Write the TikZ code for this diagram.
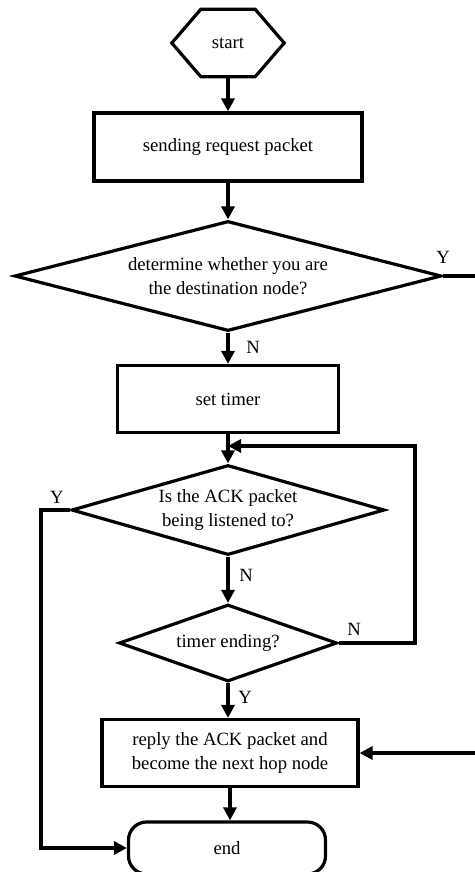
\documentclass[tikz,border=0pt]{standalone}
\usepackage{fontspec}
\setmainfont{Liberation Serif}
\usetikzlibrary{shapes.geometric,arrows.meta}

\begin{document}
\begin{tikzpicture}[x=1bp,y=-1bp,
    every node/.style={font=\fontsize{18.7bp}{24bp}\selectfont},
    proc/.style={draw,rectangle,line width=3.2bp,inner sep=0pt,align=center},
    decision/.style={draw,diamond,line width=3.2bp,inner sep=0pt,align=center},
    terminal/.style={draw,rectangle,rounded corners=18bp,line width=3.2bp,inner sep=0pt},
    flow/.style={line width=3.2bp,-{Triangle[length=13bp,width=13bp]}},
    wire/.style={line width=3.2bp}]
    \clip (0,0) rectangle (475,872);

    \node[minimum width=112bp,minimum height=67bp,inner sep=0pt] (start) at (228,43) {start};
    \draw[wire] ([xshift=29bp]start.north west) -- ([xshift=-29bp]start.north east)
        -- (start.east) -- ([xshift=-29bp]start.south east)
        -- ([xshift=29bp]start.south west) -- (start.west) -- cycle;

    \node[proc,minimum width=268bp,minimum height=68bp] (send) at (228,147) {sending request packet};
    \node[decision,aspect=3.88,minimum width=427bp,minimum height=110bp] (dest) at (228,276)
        {determine whether you are\\the destination node?};
    \node[proc,minimum width=221bp,minimum height=67bp] (timer) at (228,399) {set timer};
    \node[decision,aspect=3.48,minimum width=313bp,minimum height=90bp] (ack) at (228,510)
        {Is the ACK packet\\being listened to?};
    \node[decision,aspect=2.83,minimum width=218bp,minimum height=77bp] (timeout) at (228,643) {timer ending?};
    \node[proc,minimum width=256bp,minimum height=67bp] (reply) at (230,753)
        {reply the ACK packet and\\become the next hop node};
    \node[terminal,minimum width=197bp,minimum height=52bp] (end) at (227,848) {end};

    \coordinate (join) at (228,446);

    \draw[flow] (start) -- (send);
    \draw[flow] (send) -- (dest);
    \draw[flow] (dest) -- (timer);
    \draw[flow] (timer) -- (ack);
    \draw[flow] (ack) -- (timeout);
    \draw[flow] (timeout.south) -- (timeout.south |- reply.north);
    \draw[flow] (reply.south) -- (reply.south |- end.north);

    % loops and branches
    \draw[flow] (timeout.east) -- (415,643) -- (415,446) -- (join);
    \draw[flow] (ack.west) -- (41,510) -- (41,848) -- (end.west);
    \draw[flow] (dest.east) -- (495,276) -- (495,753) -- (reply.east);

    \node (y1) at (443,257) {Y};
    \node (n1) at (253,347) {N};
    \node (y2) at (57,497) {Y};
    \node (n2) at (246,575) {N};
    \node (n3) at (354,629) {N};
    \node (y3) at (245,697) {Y};
\end{tikzpicture}
\end{document}
